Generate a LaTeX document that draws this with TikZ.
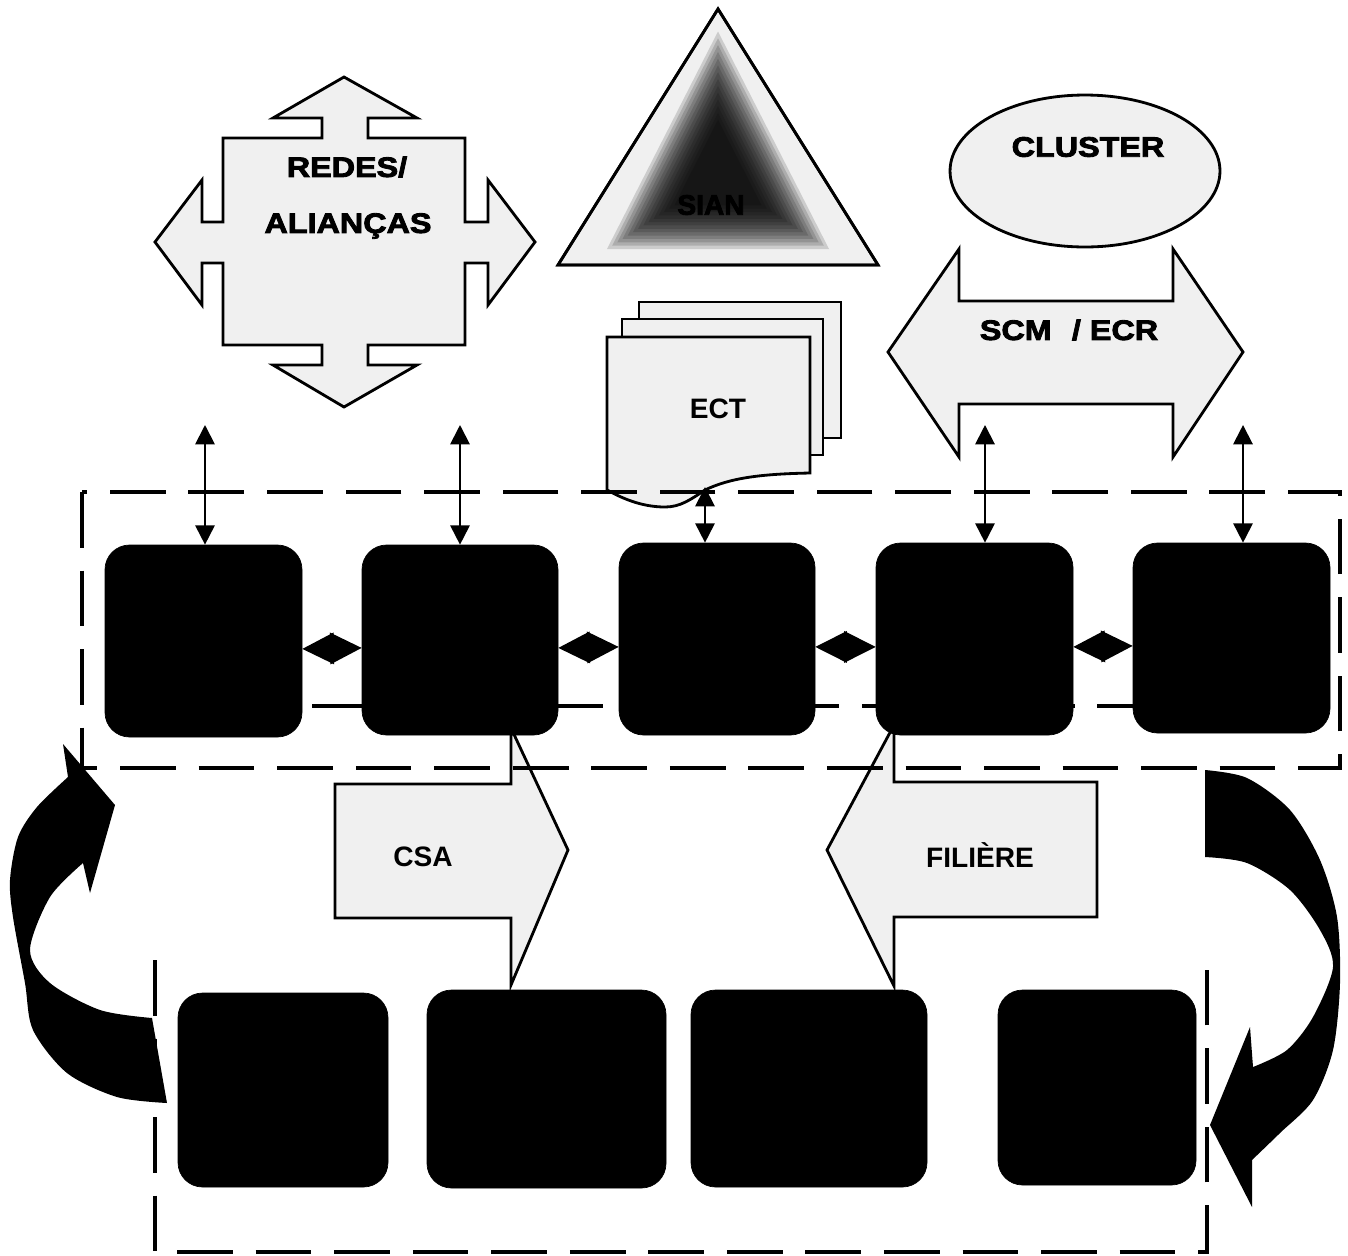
\documentclass[tikz,border=0pt]{standalone}
\usepackage{fontspec}
\setmainfont{Liberation Sans}
\newfontfamily\heavyfont{Liberation Sans}[FakeStretch=1.15,FakeBold=3]
\newfontfamily\fakeboldfont{Liberation Sans}[FakeBold=3]
\usetikzlibrary{arrows.meta,fit,calc,shapes.geometric}

\begin{document}
\begin{tikzpicture}[x=0.02cm,y=-0.02cm,
  blackbox/.style={fill=black,draw=black,rounded corners=14pt,inner sep=0pt},
  shapefill/.style={fill=black!6,draw=black,line width=1.6pt},
  dashbox/.style={line width=2.8pt,dash pattern=on 31.7pt off 13pt},
  vlink/.style={line width=1.1pt,{Triangle[length=11pt,width=11pt]}-{Triangle[length=11pt,width=11pt]}},
  diam/.style={line width=0.8pt,{Triangle[length=18pt,width=18pt]}-{Triangle[length=18pt,width=18pt]}},
  heavylabel/.style={font=\heavyfont\bfseries\fontsize{16}{19}\selectfont,inner sep=0pt},
  sianlabel/.style={font=\fakeboldfont\bfseries\fontsize{16}{19}\selectfont,inner sep=0pt},
  plainlabel/.style={font=\bfseries\fontsize{16}{19}\selectfont,inner sep=0pt},
]
% canvas
\fill[white] (0,0) rectangle (1348,1255);
\useasboundingbox (0,0) rectangle (1348,1255);

% ---- REDES / ALIANCAS cross arrow
\draw[shapefill] (344,77) -- (417,118) -- (368,118) -- (368,138) -- (465,138) -- (465,222)
  -- (488,222) -- (488,180) -- (535,242) -- (488,305) -- (488,263) -- (465,263) -- (465,345)
  -- (368,345) -- (368,365) -- (417,365) -- (344,407) -- (273,365) -- (322,365) -- (322,345)
  -- (223,345) -- (223,263) -- (202,263) -- (202,305) -- (155,242) -- (202,180) -- (202,222)
  -- (223,222) -- (223,138) -- (322,138) -- (322,118) -- (273,118) -- cycle;
\node[heavylabel] (redes) at (347,167) {REDES/};
\node[heavylabel] (alianca) at (348,226) {ALIANÇAS};

% ---- SIAN triangle
\draw[shapefill] (718,9) -- (878,265) -- (558,265) -- cycle;
\begin{scope}
  \clip (718,9) -- (878,265) -- (558,265) -- cycle;
  \foreach \s in {1.5,1.43,1.36,1.29,1.22,1.15,1.08,1.01,0.94,0.87,0.8,0.73,0.66,0.59}{
    \fill[black,opacity=0.15,scale around={\s:(718,177)}] (718,80) -- (792,225) -- (644,225) -- cycle;
  }
\end{scope}
\draw[line width=1.6pt] (718,9) -- (878,265) -- (558,265) -- cycle;
\node[sianlabel] (sian) at (711,205) {SIAN};

% ---- CLUSTER ellipse
\node[shapefill,ellipse,minimum width=5.4cm,minimum height=3.04cm,inner sep=0pt] (cluster) at (1085,171) {};
\node[heavylabel] (clusterlbl) at (1088,147) {CLUSTER};

% ---- SCM / ECR double arrow
\draw[shapefill] (888,352) -- (959,249) -- (959,301) -- (1173,301) -- (1173,249) -- (1243,352)
  -- (1173,457) -- (1173,404) -- (959,404) -- (959,457) -- cycle;
\node[heavylabel] (scm) at (1069,330) {SCM\hspace{0.4em} / ECR};

% ---- ECT document stack
\draw[shapefill] (639,302) rectangle (841,438);
\draw[shapefill] (622,319) rectangle (823,455);
\draw[shapefill] (607,490) -- (607,337) -- (810,337) -- (810,473)
  .. controls (760,474) and (730,478) .. (705,490)
  .. controls (690,500) and (680,507) .. (665,507)
  .. controls (640,507) and (620,497) .. (607,490) -- cycle;
\node[plainlabel] (ect) at (718,409) {ECT};

% ---- middle dashed line (behind boxes)
\draw[dashbox] (155,706) -- (1205,706);

% ---- CSA and FILIERE arrows
\draw[shapefill] (335,784) -- (511,784) -- (511,728) -- (568,850) -- (511,985) -- (511,918) -- (335,918) -- cycle;
\node[plainlabel] (csa) at (423,857) {CSA};
\draw[shapefill] (1097,782) -- (894,782) -- (894,725) -- (827,850) -- (894,986) -- (894,917) -- (1097,917) -- cycle;
\node[plainlabel] (filiere) at (980,855) {FILIÈRE};

% ---- top row boxes
\node[blackbox,fit={(105,545) (302,737)}] (t1) {};
\node[blackbox,fit={(362,545) (558,735)}] (t2) {};
\node[blackbox,fit={(619,543) (815,735)}] (t3) {};
\node[blackbox,fit={(876,543) (1073,735)}] (t4) {};
\node[blackbox,fit={(1133,543) (1330,733)}] (t5) {};

% ---- bottom row boxes
\node[blackbox,fit={(178,993) (388,1187)}] (b1) {};
\node[blackbox,fit={(427,990) (666,1188)}] (b2) {};
\node[blackbox,fit={(691,990) (927,1187)}] (b3) {};
\node[blackbox,fit={(998,990) (1196,1185)}] (b4) {};

% ---- dashed frames
\draw[dashbox] (82,492) rectangle (1340,768);
\draw[dashbox] (155,960) -- (155,1252) -- (1207,1252) -- (1207,957);

% ---- vertical links
\coordinate (u1) at (205,425);
\coordinate (u2) at (460,425);
\coordinate (u3) at (705,487);
\coordinate (u4) at (985,425);
\coordinate (u5) at (1243,425);
\draw[vlink] (u1) -- (u1 |- t1.north);
\draw[vlink] (u2) -- (u2 |- t2.north);
\draw[vlink] (u3) -- (u3 |- t3.north);
\draw[vlink] (u4) -- (u4 |- t4.north);
\draw[vlink] (u5) -- (u5 |- t5.north);

% ---- diamond links between top boxes
\draw[diam] ([yshift=-4.5pt]t1.east) -- ([yshift=-4.5pt]t2.west);
\draw[diam] ([yshift=-4.5pt]t2.east) -- ([yshift=-4.5pt]t3.west);
\draw[diam] ([yshift=-4.5pt]t3.east) -- ([yshift=-4.5pt]t4.west);
\draw[diam] ([yshift=-4.5pt]t4.east) -- ([yshift=-4.5pt]t5.west);

% ---- curved arrows
\fill[black] plot[smooth] coordinates {(167,1103) (117,1097) (67,1073) (33,1030) (25,983) (13,917) (10,880) (18,837) (37,807) (68,777)}
  -- (63,744) -- (115,805) -- (90,893) -- (83,863)
  -- plot[smooth] coordinates {(83,863) (50,897) (30,950) (50,983) (100,1010) (152,1018)} -- cycle;
\fill[black] plot[smooth] coordinates {(1205,770) (1247,778) (1290,810) (1320,860) (1337,917) (1340,983) (1333,1050) (1313,1100) (1280,1133) (1252,1160)}
  -- (1252,1207) -- (1210,1125) -- (1250,1027) -- (1253,1067)
  -- plot[smooth] coordinates {(1253,1067) (1287,1050) (1313,1017) (1333,967) (1320,930) (1290,890) (1247,863) (1205,857)} -- cycle;
\end{tikzpicture}
\end{document}
